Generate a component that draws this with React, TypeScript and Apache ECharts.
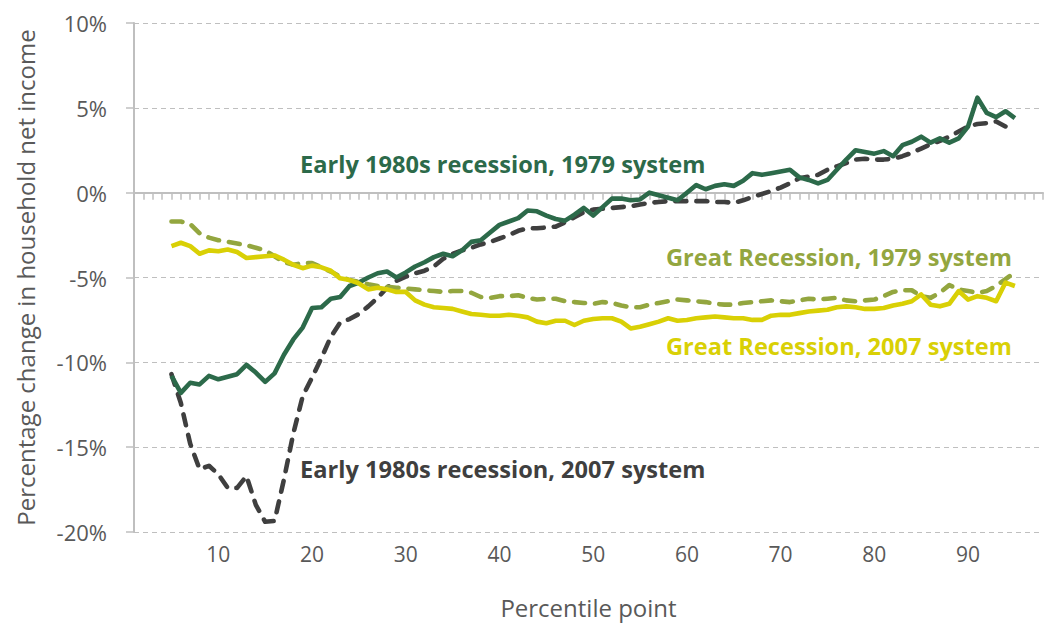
import React, { useEffect, useRef } from 'react';
import * as echarts from 'echarts';

// x-axis categories (percentile points shown on the axis)
const CATEGORIES: number[] = [
  1, 2, 3, 4, 5, 6, 7, 8, 9, 10, 11, 12, 13, 14, 15, 16, 17, 18, 19, 20,
  21, 22, 23, 24, 25, 26, 27, 28, 29, 30, 31, 32, 33, 34, 35, 36, 37, 38, 39, 40,
  41, 42, 43, 44, 45, 46, 47, 48, 49, 50, 51, 52, 53, 54, 55, 56, 57, 58, 59, 60,
  61, 62, 63, 64, 65, 66, 67, 68, 69, 70, 71, 72, 73, 74, 75, 76, 77, 78, 79, 80,
  81, 82, 83, 84, 85, 86, 87, 88, 89, 90, 91, 92, 93, 94, 95, 96, 97, 98,
];
const LABELLED_TICKS: number[] = [10, 20, 30, 40, 50, 60, 70, 80, 90];
const Y_TICKS: number[] = [-20, -15, -10, -5, 0, 5, 10];

// first percentile that has data; each series runs from 5 to 95
const FIRST_PERCENTILE = 5;

// Early 1980s recession, 1979 system (p5..p95)
const EARLY80S_1979: number[] = [
  -10.8, -11.8, -11.2, -11.3, -10.8, -11.0, -10.85, -10.7, -10.15, -10.6,
  -11.15, -10.65, -9.55, -8.65, -7.95, -6.8, -6.75, -6.25, -6.15, -5.5,
  -5.3, -5.0, -4.75, -4.65, -5.0, -4.7, -4.35, -4.1, -3.8, -3.6,
  -3.75, -3.4, -2.9, -2.8, -2.35, -1.9, -1.7, -1.5, -1.05, -1.1,
  -1.35, -1.55, -1.65, -1.3, -0.9, -1.35, -0.85, -0.35, -0.35, -0.45,
  -0.4, 0.0, -0.15, -0.3, -0.45, 0.0, 0.45, 0.2, 0.4, 0.5,
  0.4, 0.7, 1.15, 1.05, 1.15, 1.25, 1.35, 0.9, 0.75, 0.55,
  0.75, 1.35, 1.95, 2.5, 2.4, 2.3, 2.45, 2.15, 2.8, 3.0,
  3.3, 2.95, 3.2, 2.95, 3.2, 3.9, 5.6, 4.7, 4.45, 4.8,
  4.4,
];

// Early 1980s recession, 2007 system (p5..p95)
const EARLY80S_2007: number[] = [
  -10.7, -12.4, -14.8, -16.3, -16.1, -16.6, -17.4, -17.4, -16.7, -18.4,
  -19.4, -19.35, -16.9, -14.2, -12.0, -10.9, -9.75, -8.5, -7.65, -7.45,
  -7.15, -6.7, -6.2, -5.6, -5.2, -4.95, -4.75, -4.6, -4.35, -3.9,
  -3.6, -3.4, -3.25, -3.05, -2.9, -2.7, -2.5, -2.25, -2.1, -2.1,
  -2.05, -2.0, -1.75, -1.45, -1.15, -1.0, -0.95, -0.9, -0.85, -0.8,
  -0.7, -0.6, -0.55, -0.5, -0.5, -0.5, -0.5, -0.5, -0.55, -0.55,
  -0.6, -0.45, -0.25, -0.08, 0.1, 0.3, 0.55, 0.85, 0.95, 1.05,
  1.35, 1.55, 1.75, 1.95, 2.0, 1.95, 1.95, 2.0, 2.15, 2.35,
  2.6, 2.85, 3.05, 3.3, 3.6, 3.9, 4.05, 4.1, 4.2, 3.9,
  4.05,
];

// Great Recession, 1979 system (p5..p95)
const GREAT_1979: number[] = [
  -1.7, -1.7, -1.85, -2.4, -2.65, -2.8, -2.9, -3.0, -3.1, -3.25,
  -3.4, -3.75, -4.1, -4.25, -4.15, -4.15, -4.4, -4.65, -4.95, -5.15,
  -5.25, -5.4, -5.5, -5.55, -5.6, -5.65, -5.7, -5.75, -5.8, -5.85,
  -5.8, -5.8, -5.9, -6.15, -6.2, -6.1, -6.1, -6.05, -6.2, -6.3,
  -6.25, -6.25, -6.4, -6.45, -6.5, -6.55, -6.45, -6.5, -6.65, -6.75,
  -6.75, -6.6, -6.5, -6.4, -6.3, -6.35, -6.4, -6.45, -6.55, -6.6,
  -6.6, -6.5, -6.45, -6.4, -6.35, -6.4, -6.45, -6.35, -6.25, -6.3,
  -6.25, -6.2, -6.35, -6.4, -6.35, -6.3, -6.1, -5.85, -5.75, -5.75,
  -6.1, -6.2, -5.9, -5.45, -5.7, -5.8, -5.9, -5.8, -5.5, -5.1,
  -4.7,
];

// Great Recession, 2007 system (p5..p95)
const GREAT_2007: number[] = [
  -3.15, -2.95, -3.15, -3.6, -3.4, -3.45, -3.35, -3.5, -3.85, -3.8,
  -3.75, -3.7, -3.95, -4.25, -4.45, -4.3, -4.4, -4.6, -5.05, -5.15,
  -5.35, -5.7, -5.6, -5.7, -5.85, -5.85, -6.35, -6.6, -6.75, -6.8,
  -6.85, -7.0, -7.15, -7.2, -7.25, -7.25, -7.2, -7.25, -7.35, -7.6,
  -7.7, -7.55, -7.55, -7.8, -7.55, -7.45, -7.4, -7.4, -7.6, -8.0,
  -7.9, -7.75, -7.6, -7.4, -7.55, -7.5, -7.4, -7.35, -7.3, -7.35,
  -7.4, -7.4, -7.5, -7.5, -7.25, -7.2, -7.2, -7.1, -7.0, -6.95,
  -6.9, -6.75, -6.7, -6.75, -6.85, -6.85, -6.8, -6.65, -6.55, -6.4,
  -6.0, -6.6, -6.7, -6.55, -5.8, -6.3, -6.1, -6.2, -6.4, -5.3,
  -5.5,
];

const SERIES_NAMES = [
  'Early 1980s recession, 2007 system',
  'Early 1980s recession, 1979 system',
  'Great Recession, 1979 system',
  'Great Recession, 2007 system',
];

const C_GREEN = '#2C6A4A';
const C_OLIVE = '#93A63F';
const C_YELLOW = '#D9D005';
const C_DARK = '#3F3F3F';
const C_AXIS = '#BFBFBF';
const C_TEXT = '#595959';
const FONT = '"Open Sans", "Noto Sans", sans-serif';

const toPairs = (vals: number[]) =>
  vals.map((v, i) => [String(FIRST_PERCENTILE + i), v]);

export default function App() {
  const ref = useRef<HTMLDivElement>(null);

  useEffect(() => {
    if (!ref.current) return;
    const chart = echarts.init(ref.current, undefined, { renderer: 'svg' });
    const cats = CATEGORIES.map(String);

    const lineSeries = (
      name: string,
      vals: number[],
      color: string,
      dashed: boolean,
      z: number
    ) => ({
      name,
      type: 'line',
      data: toPairs(vals),
      showSymbol: false,
      symbol: 'none',
      smooth: false,
      z,
      xAxisIndex: 0,
      yAxisIndex: 0,
      lineStyle: {
        color,
        width: 4.6,
        type: dashed ? [11, 10] : 'solid',
        cap: dashed ? 'round' : 'butt',
        join: 'round',
      },
      emphasis: { disabled: true },
    });

    const annotation = (text: string, x: number, y: number, fill: string) => ({
      type: 'text',
      x,
      y,
      style: {
        text,
        fill,
        fontSize: 23.6,
        fontWeight: 'bold',
        fontFamily: FONT,
        verticalAlign: 'middle',
        align: 'left',
      },
    });

    chart.setOption({
      animation: false,
      backgroundColor: '#ffffff',
      textStyle: { fontFamily: FONT },
      grid: {
        left: 134,
        right: 3,
        top: 23,
        bottom: 91,
        containLabel: false,
        outerBoundsMode: 'none',
      },
      xAxis: [
        {
          type: 'category',
          data: cats,
          boundaryGap: false,
          position: 'bottom',
          axisLine: { show: false, onZero: false },
          axisTick: { show: false },
          splitLine: { show: false },
          axisLabel: {
            interval: (_i: number, v: string) => LABELLED_TICKS.includes(Number(v)),
            color: C_TEXT,
            fontSize: 21,
            fontFamily: FONT,
            margin: 11,
          },
          name: 'Percentile point',
          nameLocation: 'middle',
          nameGap: 63,
          nameTextStyle: { color: C_TEXT, fontSize: 24, fontFamily: FONT },
        },
        {
          type: 'category',
          data: cats,
          boundaryGap: false,
          position: 'bottom',
          axisLine: {
            show: true,
            onZero: true,
            onZeroAxisIndex: 0,
            lineStyle: { color: C_AXIS, width: 2 },
          },
          axisTick: {
            show: true,
            interval: 0,
            length: 7,
            lineStyle: { color: C_AXIS, width: 1.5 },
          },
          axisLabel: { show: false },
          splitLine: { show: false },
        },
      ],
      yAxis: {
        type: 'value',
        min: -20,
        max: 10,
        interval: 5,
        axisLine: { show: true, onZero: false, lineStyle: { color: C_AXIS, width: 2 } },
        axisTick: { show: true, length: 8, lineStyle: { color: C_AXIS, width: 1.5 } },
        splitLine: {
          show: true,
          lineStyle: { color: C_AXIS, width: 1.2, type: [5, 4] },
        },
        axisLabel: {
          color: C_TEXT,
          fontSize: 22,
          fontFamily: FONT,
          margin: 27,
          customValues: Y_TICKS,
          formatter: (v: number) => `${v}%`,
        },
        name: 'Percentage change in household net income',
        nameLocation: 'middle',
        nameGap: 97,
        nameRotate: 90,
        nameTextStyle: { color: C_TEXT, fontSize: 24, fontFamily: FONT },
      },
      series: [
        lineSeries(SERIES_NAMES[0], EARLY80S_2007, C_DARK, true, 2),
        lineSeries(SERIES_NAMES[1], EARLY80S_1979, C_GREEN, false, 3),
        lineSeries(SERIES_NAMES[2], GREAT_1979, C_OLIVE, true, 4),
        lineSeries(SERIES_NAMES[3], GREAT_2007, C_YELLOW, false, 5),
      ],
      graphic: [
        annotation(SERIES_NAMES[1], 300, 164, C_GREEN),
        annotation(SERIES_NAMES[2], 666, 257, C_OLIVE),
        annotation(SERIES_NAMES[3], 666, 346, C_YELLOW),
        annotation(SERIES_NAMES[0], 300, 469, C_DARK),
      ],
    });

    return () => chart.dispose();
  }, []);

  return (
    <div
      ref={ref}
      style={{ position: 'fixed', left: 0, top: 0, width: 1046, height: 623 }}
    />
  );
}
